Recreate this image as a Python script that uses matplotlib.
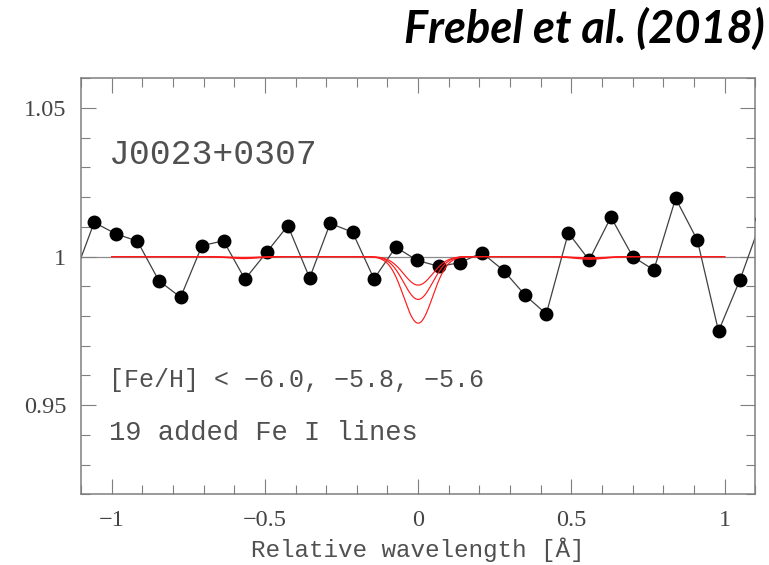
import numpy as np
import matplotlib
matplotlib.use("Agg")
import matplotlib.pyplot as plt
from matplotlib.ticker import MultipleLocator, FuncFormatter

# Observed normalized flux around the stacked Fe I line positions
wave = [-1.128, -1.057, -0.987, -0.916, -0.846, -0.775, -0.705, -0.635,
        -0.565, -0.494, -0.425, -0.354, -0.287, -0.214, -0.144, -0.073,
        -0.003, 0.069, 0.138, 0.208, 0.279, 0.349, 0.418, 0.490,
        0.558, 0.629, 0.700, 0.769, 0.840, 0.911, 0.980, 1.050, 1.121]
flux = [0.9918, 1.0115, 1.0077, 1.0052, 0.9919, 0.9863, 1.0037, 1.0053,
        0.9924, 1.0015, 1.0104, 0.9928, 1.0112, 1.0082, 0.9925, 1.0032,
        0.9987, 0.9967, 0.9980, 1.0013, 0.9953, 0.9870, 0.9807, 1.0080,
        0.9988, 1.0133, 1.0000, 0.9955, 1.0196, 1.0055, 0.9749, 0.9922, 1.0126]

# Synthetic stacked-line models for three iron abundances
feh_values = [-6.0, -5.8, -5.6]
line_depths = [0.0096, 0.0144, 0.0224]
line_center = 0.0
line_sigma = 0.047
# weak neighbouring features (relative to the main line depth)
weak_centers = [-0.57, 0.56]
weak_rel = [0.03, 0.04]
model_range = (-1.0, 1.0)

label_star = "J0023+0307"
label_feh = "[Fe/H] < \u22126.0, \u22125.8, \u22125.6"
label_lines = "19 added Fe I lines"
title = "Frebel et al. (2018)"

mono = ["Liberation Mono", "DejaVu Sans Mono"]
serif = ["Liberation Serif", "DejaVu Serif"]
grey = "#7f7f7f"
textc = "#505050"

fig = plt.figure(figsize=(7.69, 5.65), dpi=100)
ax = fig.add_axes([0.1053, 0.1251, 0.8769, 0.7363])

ax.axhline(1.0, color="#8c8c8c", lw=0.9, zorder=1)
ax.plot(wave, flux, color="#404040", lw=0.9, zorder=2)
ax.plot(wave, flux, ls="none", marker="o", ms=9.0, color="black", zorder=3)

xm = np.linspace(model_range[0], model_range[1], 1201)
for depth in line_depths:
    prof = np.exp(-0.5 * ((xm - line_center) / line_sigma) ** 2) * depth
    for c, r in zip(weak_centers, weak_rel):
        prof = prof + np.exp(-0.5 * ((xm - c) / 0.05) ** 2) * depth * r
    ax.plot(xm, 1.0 - prof, color="#ff1a1a", lw=0.85, zorder=4)

ax.set_xlim(-1.1, 1.1)
ax.set_ylim(0.92, 1.06)

fmt = FuncFormatter(lambda v, p: f"{v:g}".replace("-", "\u2212"))
ax.xaxis.set_major_locator(MultipleLocator(0.5))
ax.xaxis.set_minor_locator(MultipleLocator(0.1))
ax.yaxis.set_major_locator(MultipleLocator(0.05))
ax.yaxis.set_minor_locator(MultipleLocator(0.01))
ax.xaxis.set_major_formatter(fmt)
ax.yaxis.set_major_formatter(fmt)

ax.tick_params(which="both", direction="in", top=True, right=True,
               color=grey, width=0.8)
ax.tick_params(which="major", length=10.8)
ax.tick_params(which="minor", length=6.7)
ax.tick_params(axis="x", which="major", pad=11)
ax.tick_params(axis="y", which="major", pad=10.5)
for lab in ax.get_xticklabels() + ax.get_yticklabels():
    lab.set_family(serif)
    lab.set_fontsize(17.5)
    lab.set_color("#444444")

for s in ax.spines.values():
    s.set_color(grey)
    s.set_linewidth(1.1)

ax.set_xlabel("Relative wavelength [\u00c5]", family=mono, fontsize=17.5,
              color=textc, labelpad=5)

ax.text(0.042, 0.794, label_star, transform=ax.transAxes, family=mono,
        fontsize=25, color=textc, va="baseline", ha="left")
ax.text(0.042, 0.2587, label_feh, transform=ax.transAxes, family=mono,
        fontsize=18, color=textc, va="baseline", ha="left")
ax.text(0.042, 0.1305, label_lines, transform=ax.transAxes, family=mono,
        fontsize=19.5, color=textc, va="baseline", ha="left")

fig.text(0.995, 1 - 43 / 565, title, ha="right", va="baseline",
         family=["Lato", "DejaVu Sans"], weight="bold", style="italic",
         fontsize=32.5, color="black")

fig.savefig("out.png", dpi=100)
